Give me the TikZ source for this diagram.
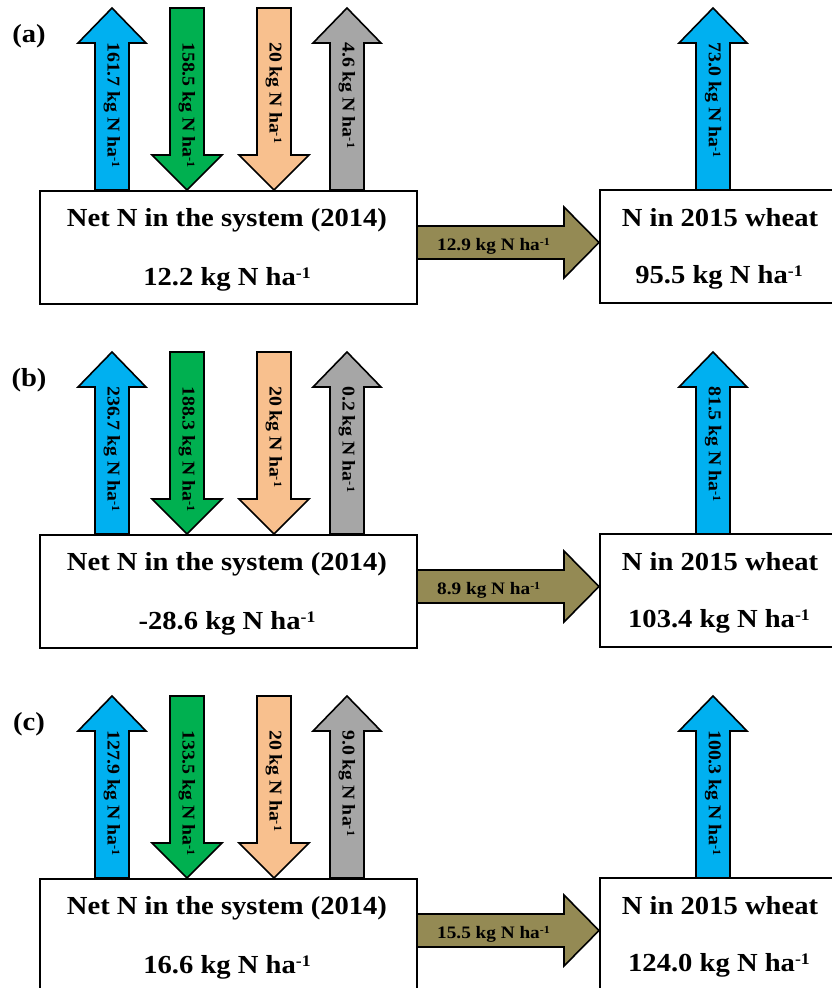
\documentclass[tikz,border=0pt]{standalone}
\usepackage{fontspec}
\usepackage{graphicx}
\setmainfont{Liberation Serif}[FakeStretch=1.1]
\definecolor{cblue}{HTML}{00B0F0}
\definecolor{cgreen}{HTML}{00B050}
\definecolor{cpeach}{HTML}{F8C08E}
\definecolor{cgray}{HTML}{A6A6A6}
\definecolor{colive}{HTML}{948A54}
\newcommand{\NSup}[1]{\raisebox{0.24em}{\scalebox{0.62}{#1}}}
\newcommand{\Nunit}{kg N ha\NSup{-1}}
\tikzset{
  arrowline/.style={draw=black, line width=1.6pt, line join=miter},
  boxstyle/.style={draw=black, line width=1.7pt, fill=white, inner sep=0pt},
  vlabel/.style={rotate=-90, anchor=west, inner sep=0pt, font=\bfseries\fontsize{18}{20}\selectfont},
  hlabel/.style={anchor=base west, inner sep=0pt, font=\bfseries\fontsize{17.5}{20}\selectfont},
  maintext/.style={anchor=base, inner sep=0pt, font=\bfseries\fontsize{26}{30}\selectfont},
  panellabel/.style={inner sep=0pt, font=\bfseries\fontsize{26}{30}\selectfont},
}
\newcommand{\NUp}[2]{\draw[arrowline, fill=#2] ({#1-17},190) -- ({#1-17},43) -- ({#1-34},43) -- (#1,8) -- ({#1+34},43) -- ({#1+17},43) -- ({#1+17},190) -- cycle;}
\newcommand{\NDown}[2]{\draw[arrowline, fill=#2] ({#1-17},8) -- ({#1-17},155) -- ({#1-35},155) -- (#1,190) -- ({#1+35},155) -- ({#1+17},155) -- ({#1+17},8) -- cycle;}
\newcommand{\NPanel}[9]{%
  \NUp{112}{cblue}
  \NDown{187}{cgreen}
  \NDown{274}{cpeach}
  \NUp{347}{cgray}
  \NUp{713}{cblue}
  \draw[arrowline, fill=colive] (416,226) -- (564,226) -- (564,207) -- (599,242.5) -- (564,278) -- (564,259) -- (416,259) -- cycle;
  \node[boxstyle, anchor=north west, minimum width=377pt, minimum height=113pt] (net-#1) at (39,190) {};
  \node[boxstyle, anchor=north west, minimum width=250pt, minimum height=113pt] (wheat-#1) at (599,189) {};
  \node[panellabel] (lab-#1) at (29,36) {(#1)};
  \node[vlabel] (vb-#1) at (112,42) {#2 \Nunit};
  \node[vlabel] (vg-#1) at (187,42) {#3 \Nunit};
  \node[vlabel] (vp-#1) at (274,42) {#4 \Nunit};
  \node[vlabel] (vy-#1) at (347,42) {#5 \Nunit};
  \node[vlabel] (vr-#1) at (713,42) {#8 \Nunit};
  \node[hlabel] (ol-#1) at (437,250) {#6 \Nunit};
  \node[maintext] (nt1-#1) at (227,226) {Net N in the system (2014)};
  \node[maintext] (nt2-#1) at (227,285) {#7 \Nunit};
  \node[maintext] (wt1-#1) at (720,226) {N in 2015 wheat};
  \node[maintext] (wt2-#1) at (719,283) {#9 \Nunit};
}
\begin{document}
\begin{tikzpicture}[x=1pt, y=-1pt]
\useasboundingbox (0,0) rectangle (831,988);
\begin{scope}
\NPanel{a}{161.7}{158.5}{20}{4.6}{12.9}{12.2}{73.0}{95.5}
\end{scope}
\begin{scope}[yshift=-344pt]
\NPanel{b}{236.7}{188.3}{20}{0.2}{8.9}{-28.6}{81.5}{103.4}
\end{scope}
\begin{scope}[yshift=-688pt]
\NPanel{c}{127.9}{133.5}{20}{9.0}{15.5}{16.6}{100.3}{124.0}
\end{scope}
\end{tikzpicture}
\end{document}
